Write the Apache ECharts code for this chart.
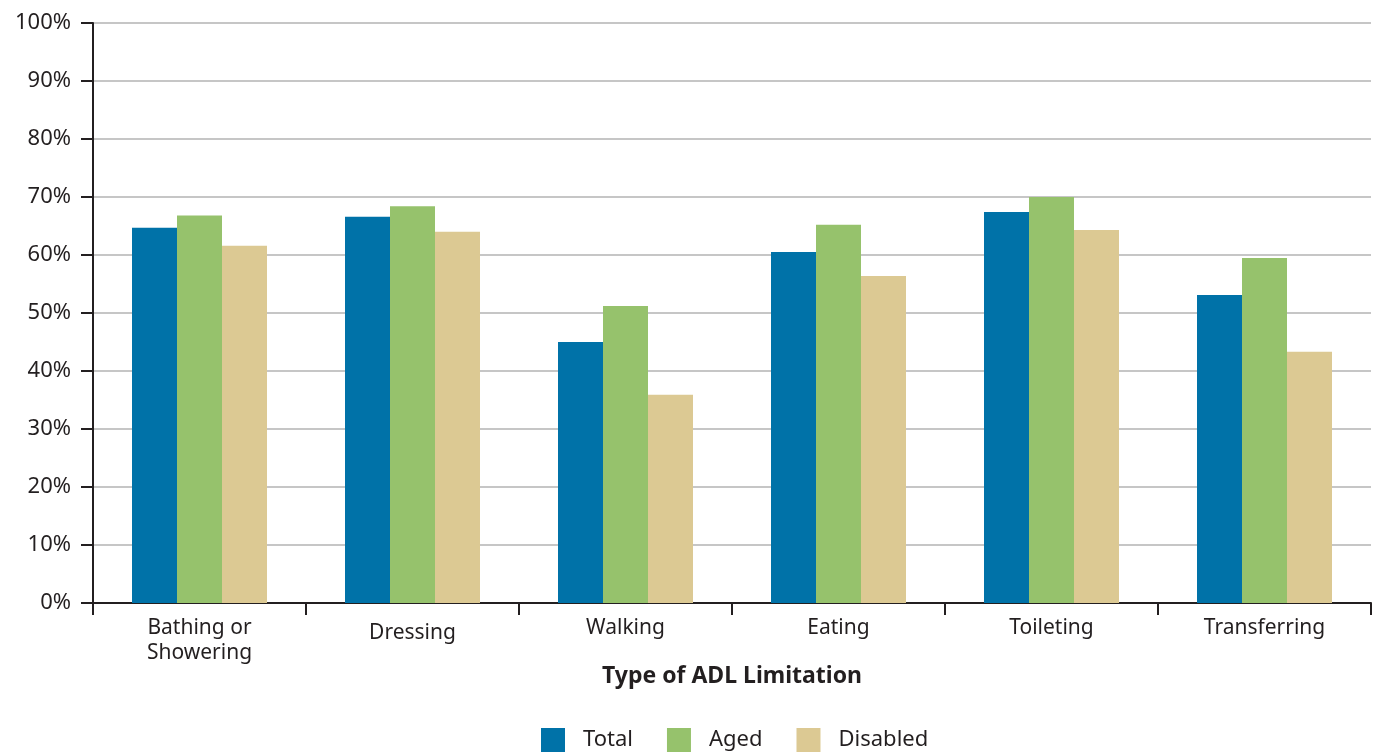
<!DOCTYPE html>
<html>
<head>
<meta charset="utf-8">
<script src="https://cdn.jsdelivr.net/npm/echarts@6/dist/echarts.min.js"></script>
<style>
  html, body { margin: 0; padding: 0; background: #fff; }
  #chart { width: 1377px; height: 755px; }
</style>
</head>
<body>
<div id="chart"></div>
<script>
// ADL limitation categories and share of people (%) in each group
const categories = ['Bathing or\nShowering', 'Dressing', 'Walking', 'Eating', 'Toileting', 'Transferring'];
const totalValues    = [64.7, 66.6, 45.0, 60.5, 67.4, 53.1];
const agedValues     = [66.8, 68.4, 51.2, 65.2, 70.0, 59.5];
const disabledValues = [61.6, 64.0, 35.9, 56.4, 64.3, 43.3];
const seriesNames = ['Total', 'Aged', 'Disabled'];
const yTicks = [0, 10, 20, 30, 40, 50, 60, 70, 80, 90, 100];

const FONT = '"Noto Sans", "Open Sans", sans-serif';
const INK = '#231f20';

const chart = echarts.init(document.getElementById('chart'), null, { renderer: 'canvas' });

const makeBar = (name, data, color) => ({
  name,
  type: 'bar',
  data,
  barWidth: 45,
  barGap: '0%',
  itemStyle: { color },
  emphasis: { disabled: true }
});

chart.setOption({
  animation: false,
  textStyle: { fontFamily: FONT, color: INK },
  grid: { left: 93, right: 6, top: 23, bottom: 152, containLabel: false },
  legend: {
    data: seriesNames,
    top: 723,
    left: 536,
    itemWidth: 24,
    itemHeight: 24,
    itemGap: 34,
    icon: 'rect',
    textStyle: { fontFamily: FONT, fontSize: 22, color: INK, padding: [4, 0, 0, 13] }
  },
  xAxis: {
    type: 'category',
    data: categories,
    name: 'Type of ADL Limitation',
    nameLocation: 'middle',
    nameGap: 62,
    nameMoveOverlap: false,
    nameTextStyle: { fontFamily: FONT, fontSize: 23, fontWeight: 'bold', color: INK },
    axisLine: { lineStyle: { color: INK, width: 2 } },
    axisTick: { show: true, length: 12, lineStyle: { color: INK, width: 2 } },
    axisLabel: {
      fontFamily: FONT,
      fontSize: 21,
      color: INK,
      margin: 13,
      lineHeight: 25,
      interval: 0,
      formatter: (v) => v === 'Dressing' ? '{low|' + v + '}' : v,
      rich: { low: { fontFamily: FONT, fontSize: 21, color: INK, padding: [10, 0, 0, 0] } }
    },
    splitLine: { show: false }
  },
  yAxis: {
    type: 'value',
    min: yTicks[0],
    max: yTicks[yTicks.length - 1],
    interval: 10,
    axisLine: { show: true, lineStyle: { color: INK, width: 2 } },
    axisTick: { show: true, length: 12, lineStyle: { color: INK, width: 2 } },
    axisLabel: {
      fontFamily: FONT,
      fontSize: 22,
      color: INK,
      margin: 22,
      formatter: (v) => v + '%'
    },
    splitLine: { lineStyle: { color: '#c6c6c6', width: 2 } }
  },
  series: [
    makeBar(seriesNames[0], totalValues, '#0072a8'),
    makeBar(seriesNames[1], agedValues, '#96c26c'),
    makeBar(seriesNames[2], disabledValues, '#dcc993')
  ]
});
</script>
</body>
</html>
